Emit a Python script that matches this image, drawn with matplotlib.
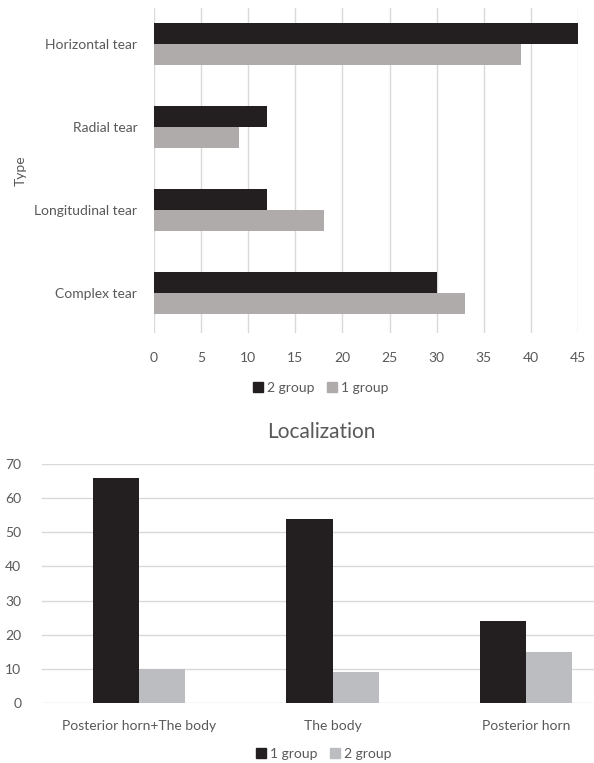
import numpy as np
import matplotlib
matplotlib.use('Agg')
from matplotlib import pyplot as plt
from matplotlib.patches import Patch

# meniscus tear type (top chart)
types = ['Complex tear', 'Longitudinal tear', 'Radial tear', 'Horizontal tear']
type_grp2 = [30, 12, 12, 45]
type_grp1 = [33, 18, 9, 39]
type_ticks = [0, 5, 10, 15, 20, 25, 30, 35, 40, 45]

# localization (bottom chart)
places = ['Posterior horn+The body', 'The body', 'Posterior horn']
loc_grp1 = [66, 54, 24]
loc_grp2 = [10, 9, 15]
loc_ticks = [0, 10, 20, 30, 40, 50, 60, 70]

dark = '#231f20'
grey_top = '#afabab'
grey_bot = '#bcbdc0'
grid_c = '#d9d9d9'
txt = '#595959'

plt.rcParams['font.family'] = ['Lato', 'DejaVu Sans']
plt.rcParams['font.size'] = 10

W, H = 594, 763
fig = plt.figure(figsize=(W / 100, H / 100), dpi=100)

# ---- top: horizontal bars
ax1 = fig.add_axes([154 / W, (H - 333) / H, 424 / W, 325 / H])
y = np.arange(len(types))
h = 0.255
ax1.barh(y + h / 2, type_grp2, height=h, color=dark, label='2 group', zorder=3)
ax1.barh(y - h / 2, type_grp1, height=h, color=grey_top, label='1 group', zorder=3)
ax1.set_xlim(0, 45)
ax1.set_ylim(-0.482, 3.434)
ax1.set_xticks(type_ticks)
ax1.set_yticks(y)
ax1.set_yticklabels(types)
ax1.xaxis.grid(True, color=grid_c, linewidth=1, zorder=0)
for s in ax1.spines.values():
    s.set_visible(False)
ax1.tick_params(length=0, colors=txt, labelsize=10)
ax1.tick_params(axis='x', pad=14)
ax1.tick_params(axis='y', pad=12)
ax1.set_ylabel('Type', color=txt, fontsize=10)
ax1.yaxis.set_label_coords(-127 / 424, 0.5)
ax1.legend(handles=[Patch(color=dark, label='2 group'), Patch(color=grey_top, label='1 group')],
           loc='center', bbox_to_anchor=(321 / W, (H - 388) / H), bbox_transform=fig.transFigure,
           ncol=2, frameon=False, fontsize=10, labelcolor=txt,
           handlelength=0.7, handleheight=0.7, handletextpad=0.3, columnspacing=0.9)

# ---- bottom: vertical bars
ax2 = fig.add_axes([42 / W, (H - 703) / H, 581 / W, 239 / H])
x = np.arange(len(places))
w = 0.238
ax2.bar(x - w / 2, loc_grp1, width=w, color=dark, label='1 group', zorder=3)
ax2.bar(x + w / 2, loc_grp2, width=w, color=grey_bot, label='2 group', zorder=3)
ax2.set_xlim(-0.5, 2.5)
ax2.set_ylim(0, 70)
ax2.set_yticks(loc_ticks)
ax2.set_xticks(x)
ax2.set_xticklabels(places)
ax2.yaxis.grid(True, color=grid_c, linewidth=1, zorder=0)
for s in ax2.spines.values():
    s.set_visible(False)
ax2.tick_params(length=0, colors=txt, labelsize=10)
ax2.tick_params(axis='x', pad=12)
ax2.tick_params(axis='y', pad=15)
fig.text(321 / W, (H - 432) / H, 'Localization', color=txt, fontsize=15,
         ha='center', va='center')
ax2.legend(handles=[Patch(color=dark, label='1 group'), Patch(color=grey_bot, label='2 group')],
           loc='center', bbox_to_anchor=(324 / W, (H - 754) / H), bbox_transform=fig.transFigure,
           ncol=2, frameon=False, fontsize=10, labelcolor=txt,
           handlelength=0.7, handleheight=0.7, handletextpad=0.3, columnspacing=0.9)

fig.savefig('out.png', dpi=100)
